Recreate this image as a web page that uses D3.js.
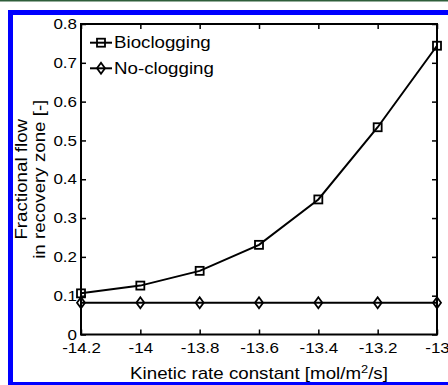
<!DOCTYPE html>
<html><head><meta charset="utf-8">
<script src="https://cdn.jsdelivr.net/npm/d3@7"></script>
<style>
body{margin:0;background:#fff;}
svg text{font-family:"Liberation Sans",Arial,Helvetica,sans-serif;fill:#000;}
</style></head>
<body><svg id="c" width="448" height="385"></svg>
<script>
const xValues = [-14.2, -14, -13.8, -13.6, -13.4, -13.2, -13];
const bioclogging = [0.106, 0.126, 0.164, 0.231, 0.348, 0.534, 0.744];
const noClogging = [0.082, 0.082, 0.082, 0.082, 0.082, 0.082, 0.082];
const xTicks = [-14.2, -14, -13.8, -13.6, -13.4, -13.2, -13];
const xTickLabels = ["-14.2", "-14", "-13.8", "-13.6", "-13.4", "-13.2", "-13"];
const yTicks = [0, 0.1, 0.2, 0.3, 0.4, 0.5, 0.6, 0.7, 0.8];
const yTickLabels = ["0", "0.1", "0.2", "0.3", "0.4", "0.5", "0.6", "0.7", "0.8"];
const seriesNames = ["Bioclogging", "No-clogging"];

const SX = 1.17;
const svg = d3.select("#c");
const L = 81, R = 437, T = 24, B = 334.5;
const x = d3.scaleLinear().domain([-14.2, -13]).range([L, R]);
const y = d3.scaleLinear().domain([0, 0.8]).range([B, T]);

// frame decorations
svg.append("rect").attr("x",0).attr("y",0).attr("width",448).attr("height",1.5).attr("fill","#2e5e3a");
svg.append("rect").attr("x",8).attr("y",10).attr("width",440).attr("height",5).attr("fill","#0000ff");
svg.append("rect").attr("x",8).attr("y",10).attr("width",5).attr("height",375).attr("fill","#0000ff");
svg.append("rect").attr("x",8).attr("y",382).attr("width",440).attr("height",3).attr("fill","#0000ff");

const fsTick = 14.5;
// axes
const gx = svg.append("g").attr("transform",`translate(0,${B})`)
  .call(d3.axisBottom(x).tickValues(xTicks).tickFormat((d,i)=>xTickLabels[i]).tickSize(-5).tickPadding(8));
const gxTop = svg.append("g").attr("transform",`translate(0,${T})`)
  .call(d3.axisTop(x).tickValues(xTicks).tickFormat("").tickSize(-5));
const gy = svg.append("g").attr("transform",`translate(${L},0)`)
  .call(d3.axisLeft(y).tickValues(yTicks).tickFormat((d,i)=>yTickLabels[i]).tickSize(-5).tickPadding(4));
const gyR = svg.append("g").attr("transform",`translate(${R},0)`)
  .call(d3.axisRight(y).tickValues(yTicks).tickFormat("").tickSize(-5));
[gx,gxTop,gy,gyR].forEach(g=>{
  g.select(".domain").remove();
  g.selectAll("line").attr("stroke","#000").attr("stroke-width",1.5);
  g.selectAll("text").attr("font-size",fsTick).attr("font-family",null);
});
gx.selectAll("text").attr("transform",`scale(${SX},1)`);
gy.selectAll("text").attr("x",-4/SX).attr("transform",`scale(${SX},1)`);

svg.append("rect").attr("x",L).attr("y",T).attr("width",R-L).attr("height",B-T)
  .attr("fill","none").attr("stroke","#000").attr("stroke-width",2);

// lines
const line = d3.line().x((d,i)=>x(xValues[i])).y(d=>y(d));
svg.append("path").datum(noClogging).attr("d",line).attr("fill","none").attr("stroke","#000").attr("stroke-width",2);
svg.append("path").datum(bioclogging).attr("d",line).attr("fill","none").attr("stroke","#000").attr("stroke-width",2);

function square(g, cx, cy){
  g.append("rect").attr("x",cx-4).attr("y",cy-4).attr("width",8).attr("height",8)
   .attr("fill","none").attr("stroke","#000").attr("stroke-width",1.8);
}
function diamond(g, cx, cy){
  g.append("path").attr("d",`M${cx},${cy-5.5}L${cx+4},${cy}L${cx},${cy+5.5}L${cx-4},${cy}Z`)
   .attr("fill","none").attr("stroke","#000").attr("stroke-width",1.8);
}
const mk = svg.append("g");
noClogging.forEach((v,i)=>diamond(mk, x(xValues[i]), y(v)));
bioclogging.forEach((v,i)=>square(mk, x(xValues[i]), y(v)));

// legend
const leg = svg.append("g");
const rows = [42.7, 68.3];
seriesNames.forEach((name,i)=>{
  const ry = rows[i];
  leg.append("line").attr("x1",90).attr("x2",112).attr("y1",ry).attr("y2",ry).attr("stroke","#000").attr("stroke-width",2);
  if(i===0) square(leg,101,ry); else diamond(leg,101,ry);
  leg.append("text").attr("transform",`translate(114,${ry}) scale(${SX},1)`).attr("dy","0.36em")
    .attr("font-size",16).text(name);
});

// axis labels
const xl = svg.append("text").attr("transform",`translate(${(L+R)/2},379) scale(${SX},1)`)
  .attr("text-anchor","middle").attr("font-size",16);
xl.append("tspan").text("Kinetic rate constant [mol/m");
xl.append("tspan").attr("font-size",11).attr("dy",-6).text("2");
xl.append("tspan").attr("dy",6).text("/s]");

const cy = (T+B)/2;
svg.append("text").attr("transform",`translate(27,${cy}) rotate(-90) scale(${SX},1)`)
  .attr("text-anchor","middle").attr("font-size",16).text("Fractional flow");
svg.append("text").attr("transform",`translate(45,${cy}) rotate(-90) scale(${SX},1)`)
  .attr("text-anchor","middle").attr("font-size",16).text("in recovery zone [-]");
</script></body></html>
